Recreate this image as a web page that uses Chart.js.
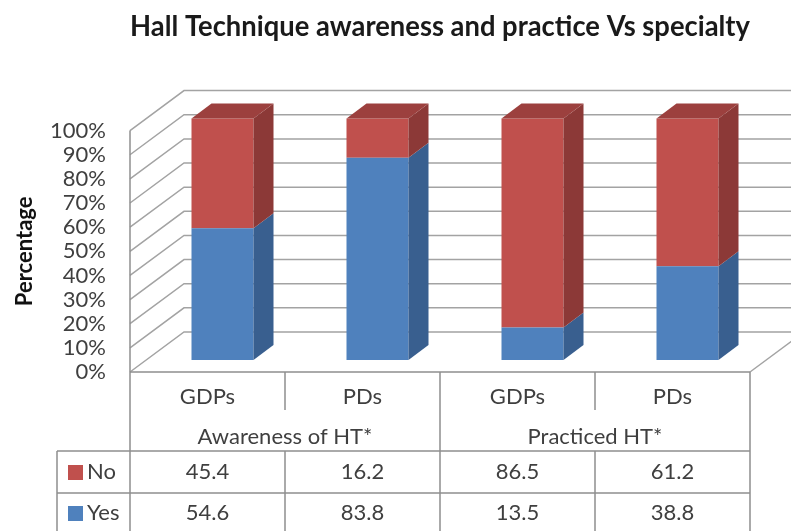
<!DOCTYPE html>
<html>
<head>
<meta charset="utf-8">
<script src="https://cdn.jsdelivr.net/npm/chart.js@4/dist/chart.umd.min.js"></script>
<style>
  body { margin: 0; background: #fff; }
  #wrap { width: 791px; height: 531px; }
</style>
</head>
<body>
<div id="wrap"><canvas id="chart" width="791" height="531"></canvas></div>
<script>
const categories = ['GDPs', 'PDs', 'GDPs', 'PDs'];
const groups = ['Awareness of HT*', 'Practiced HT*'];
const noValues = [45.4, 16.2, 86.5, 61.2];
const yesValues = [54.6, 83.8, 13.5, 38.8];
const yTickStep = 10;

const FONT = 'Lato, "Open Sans", sans-serif';
const TEXT = '#3f3f3f';
const LINE = '#a3a3a3';

// fake 3d offsets
const wallDX = 54, wallDY = -40;
const barDX = 15, barDY = -12;
const depthDX = 20, depthDY = -15;

const sideColors = ['#395f8f', '#8c3937'];
const topColor = '#9c403e';

const threeD = {
  id: 'threeD',
  beforeDatasetsDraw(chart) {
    const ctx = chart.ctx;
    const x = chart.scales.x, y = chart.scales.y;
    const left = x.left, right = x.right;
    ctx.save();
    ctx.strokeStyle = LINE;
    ctx.lineWidth = 1.5;
    for (let v = 0; v <= 100; v += yTickStep) {
      const py = y.getPixelForValue(v);
      ctx.beginPath();
      ctx.moveTo(left, py);
      ctx.lineTo(left + wallDX, py + wallDY);
      ctx.lineTo(right + wallDX, py + wallDY);
      ctx.stroke();
    }
    // floor right edge
    const y0 = y.getPixelForValue(0);
    ctx.beginPath();
    ctx.moveTo(right, y0);
    ctx.lineTo(right + wallDX, y0 + wallDY);
    ctx.stroke();
    // front left edge of the wall
    ctx.strokeStyle = '#8f8f8f';
    ctx.beginPath();
    ctx.moveTo(left, y.getPixelForValue(100));
    ctx.lineTo(left, y0);
    ctx.stroke();
    ctx.restore();

    ctx.save();
    ctx.translate(barDX, barDY);
  },
  afterDatasetsDraw(chart) {
    const ctx = chart.ctx;
    const last = chart.data.datasets.length - 1;
    chart.data.datasets.forEach((ds, di) => {
      const meta = chart.getDatasetMeta(di);
      meta.data.forEach((bar) => {
        const p = bar.getProps(['x', 'y', 'base', 'width'], true);
        const r = p.x + p.width / 2, l = p.x - p.width / 2;
        ctx.fillStyle = sideColors[di];
        ctx.beginPath();
        ctx.moveTo(r, p.y);
        ctx.lineTo(r + depthDX, p.y + depthDY);
        ctx.lineTo(r + depthDX, p.base + depthDY);
        ctx.lineTo(r, p.base);
        ctx.closePath();
        ctx.fill();
        if (di === last) {
          ctx.fillStyle = topColor;
          ctx.beginPath();
          ctx.moveTo(l, p.y);
          ctx.lineTo(l + depthDX, p.y + depthDY);
          ctx.lineTo(r + depthDX, p.y + depthDY);
          ctx.lineTo(r, p.y);
          ctx.closePath();
          ctx.fill();
        }
      });
    });
    ctx.restore();
  },
  afterDraw(chart) {
    // data table under the plot
    const ctx = chart.ctx;
    const x = chart.scales.x, y = chart.scales.y;
    const left = x.left, right = x.right;
    const top = y.getPixelForValue(0);
    const catBottom = top + 38, grpBottom = top + 79;
    const rowH = 42;
    const legLeft = 57;
    const half = (x.getPixelForValue(1) - x.getPixelForValue(0)) / 2;

    ctx.save();
    ctx.strokeStyle = '#8f8f8f';
    ctx.lineWidth = 1.5;
    ctx.beginPath();
    ctx.moveTo(left, top); ctx.lineTo(right, top);
    ctx.moveTo(legLeft, grpBottom); ctx.lineTo(right, grpBottom);
    ctx.moveTo(legLeft, grpBottom + rowH); ctx.lineTo(right, grpBottom + rowH);
    ctx.moveTo(left, top); ctx.lineTo(left, 531);
    ctx.moveTo(right, top); ctx.lineTo(right, 531);
    ctx.moveTo(legLeft, grpBottom); ctx.lineTo(legLeft, 531);
    categories.forEach((c, i) => {
      if (i === 0) return;
      const bx = x.getPixelForValue(i) - half;
      ctx.moveTo(bx, top);
      ctx.lineTo(bx, i % 2 === 0 ? 531 : catBottom);
      if (i % 2 === 1) { ctx.moveTo(bx, grpBottom); ctx.lineTo(bx, 531); }
    });
    ctx.stroke();

    ctx.fillStyle = TEXT;
    ctx.textAlign = 'center';
    ctx.textBaseline = 'middle';
    ctx.font = '22px ' + FONT;
    categories.forEach((c, i) => {
      const cx = x.getPixelForValue(i);
      ctx.fillText(c, cx, top + 25);
      ctx.fillText(noValues[i].toFixed(1), cx, grpBottom + 21);
      ctx.fillText(yesValues[i].toFixed(1), cx, grpBottom + rowH + 20);
    });
    groups.forEach((g, gi) => {
      const cx = (x.getPixelForValue(gi * 2) + x.getPixelForValue(gi * 2 + 1)) / 2;
      ctx.fillText(g, cx, top + 65);
    });

    // legend keys in the table
    const keys = [
      { label: chart.data.datasets[1].label, color: chart.data.datasets[1].backgroundColor, cy: grpBottom + 21 },
      { label: chart.data.datasets[0].label, color: chart.data.datasets[0].backgroundColor, cy: grpBottom + rowH + 20 }
    ];
    ctx.textAlign = 'left';
    keys.forEach(k => {
      ctx.fillStyle = k.color;
      ctx.fillRect(68, k.cy - 7, 15, 15);
      ctx.fillStyle = TEXT;
      ctx.fillText(k.label, 87, k.cy);
    });
    ctx.restore();
  }
};

new Chart(document.getElementById('chart'), {
  type: 'bar',
  data: {
    labels: categories,
    datasets: [
      { label: 'Yes', data: yesValues, backgroundColor: '#4f81bd', clip: false },
      { label: 'No', data: noValues, backgroundColor: '#c0504d', clip: false }
    ]
  },
  options: {
    responsive: false,
    animation: false,
    layout: { padding: { left: 0, right: 41, bottom: 159, top: 0 } },
    datasets: { bar: { barPercentage: 0.4, categoryPercentage: 1 } },
    plugins: {
      legend: { display: false },
      tooltip: { enabled: false },
      title: {
        display: true,
        fullSize: false,
        text: 'Hall Technique awareness and practice Vs specialty',
        color: '#1a1a1a',
        font: { family: FONT, size: 28, weight: 'bold' },
        padding: { top: 10, bottom: 87 }
      }
    },
    scales: {
      x: { stacked: true, display: false },
      y: {
        stacked: true,
        min: 0,
        max: 100,
        afterFit(scale) { scale.width = 130; },
        grid: { display: false, drawTicks: false },
        border: { display: false },
        ticks: {
          stepSize: yTickStep,
          autoSkip: false,
          padding: 24,
          color: TEXT,
          font: { family: FONT, size: 22 },
          callback: v => v + '%'
        },
        title: {
          display: true,
          text: 'Percentage',
          color: '#111',
          font: { family: FONT, size: 22, weight: 'bold' },
          padding: { top: 12, bottom: 0 }
        }
      }
    }
  },
  plugins: [threeD]
});
</script>
</body>
</html>
